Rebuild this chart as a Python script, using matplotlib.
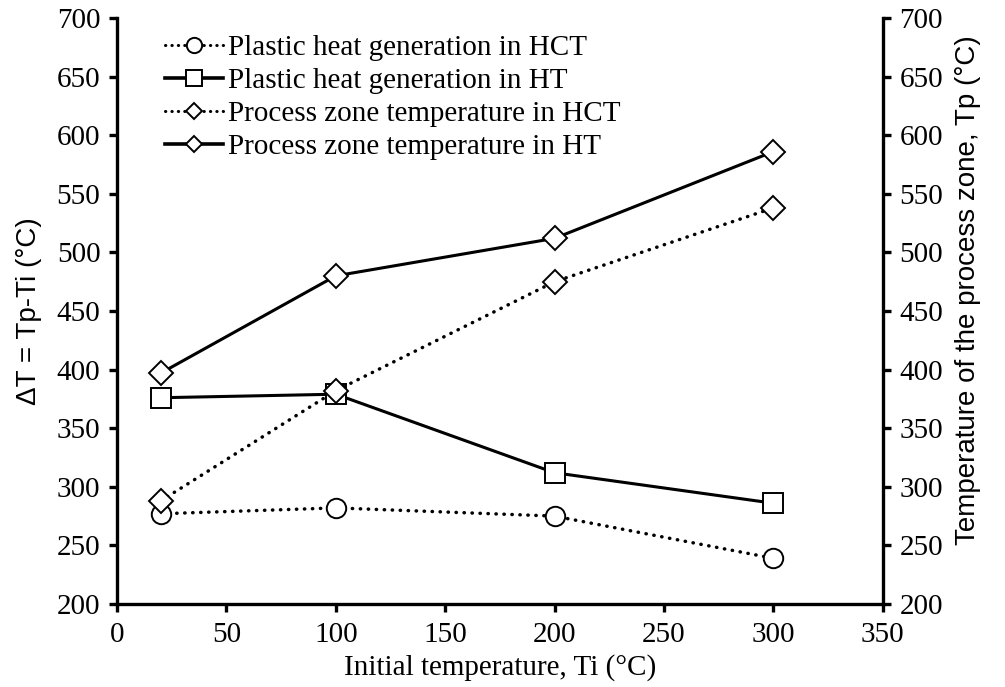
import matplotlib
matplotlib.use("Agg")
import matplotlib.pyplot as plt
from matplotlib.lines import Line2D

x = [20, 100, 200, 300]
heat_hct = [277, 282, 275, 239]
heat_ht = [376, 379, 312, 286]
temp_hct = [288, 382, 475, 538]
temp_ht = [397, 480, 512, 586]

labels = ["Plastic heat generation in HCT",
          "Plastic heat generation in HT",
          "Process zone temperature in HCT",
          "Process zone temperature in HT"]
xticks = [0, 50, 100, 150, 200, 250, 300, 350]
yticks = [200, 250, 300, 350, 400, 450, 500, 550, 600, 650, 700]

serif = ["Liberation Serif", "DejaVu Serif"]
sans = ["Liberation Sans Narrow", "Liberation Sans", "DejaVu Sans"]
plt.rcParams["font.family"] = serif

fig = plt.figure(figsize=(10.05, 6.87), dpi=100)
ax = fig.add_axes([0.1164, 0.1208, 0.762, 0.853])
ax2 = ax.twinx()

lw = 2.2
dlw = 2.5
dot = (0, (0.1, 2.2))
common = dict(color="black", markerfacecolor="white", markeredgecolor="black",
              markeredgewidth=1.4, clip_on=False)
ax.plot(x, heat_hct, linestyle=dot, lw=dlw, marker="o", markersize=14,
        dash_capstyle="round", **common)
ax.plot(x, heat_ht, linestyle="-", lw=lw, marker="s", markersize=14, **common)
ax.plot(x, temp_hct, linestyle=dot, lw=dlw, marker="D", markersize=12.5,
        dash_capstyle="round", **common)
ax.plot(x, temp_ht, linestyle="-", lw=lw, marker="D", markersize=12.5, **common)

for a in (ax, ax2):
    a.set_ylim(200, 700)
    a.set_yticks(yticks)
    a.spines["top"].set_visible(False)
    for s in a.spines.values():
        s.set_linewidth(2.4)
    a.tick_params(axis="both", direction="out", width=2.4, length=6,
                  labelsize=21)
ax.set_xlim(0, 350)
ax.set_xticks(xticks)
ax.spines["right"].set_visible(False)
ax2.spines["left"].set_visible(False)
ax2.spines["bottom"].set_visible(False)
ax.tick_params(axis="x", pad=7)
ax.tick_params(axis="y", pad=6)
ax2.tick_params(axis="y", pad=6)

ax.set_xlabel("Initial temperature, Ti (\u00b0C)", fontsize=21, labelpad=4)
ax.set_ylabel("\u0394T = Tp-Ti (\u00b0C)", fontsize=20, family=sans)
ax2.set_ylabel("Temperature of the process zone, Tp (\u00b0C)", fontsize=20,
               family=sans)
ax.yaxis.set_label_coords(-0.098, 0.5)
ax2.yaxis.set_label_coords(1.094, 0.535)

handles = [
    Line2D([], [], linestyle=(0, (0.1, 2.0)), lw=2.2, marker="o", markersize=11,
           dash_capstyle="round", **common),
    Line2D([], [], linestyle="-", lw=2.6, marker="s", markersize=11, **common),
    Line2D([], [], linestyle=(0, (0.1, 2.0)), lw=2.2, marker="D", markersize=8,
           dash_capstyle="round", **common),
    Line2D([], [], linestyle="-", lw=2.6, marker="D", markersize=8, **common),
]
leg = fig.legend(handles, labels, loc="upper left",
                 bbox_to_anchor=(165 / 1005, 1 - 35 / 687),
                 bbox_transform=fig.transFigure,
                 frameon=False, fontsize=21, handlelength=2.0,
                 handletextpad=0.15, labelspacing=0.22, borderaxespad=0,
                 borderpad=0)

fig.savefig("out.png", dpi=100)
